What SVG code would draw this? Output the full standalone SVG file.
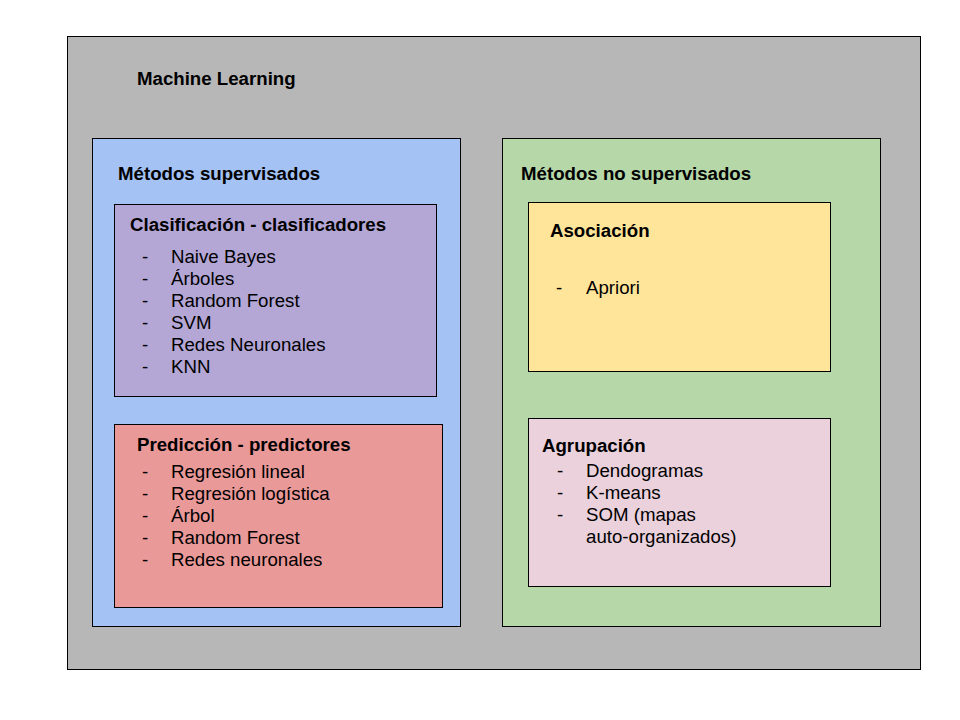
<svg xmlns="http://www.w3.org/2000/svg" width="960" height="720" viewBox="0 0 960 720">
  <style>
    .box { stroke: #000; stroke-width: 1; }
    .title { font-family: "Liberation Sans", Arial, sans-serif; font-size: 18.67px; font-weight: bold; fill: #000; }
    .item { font-family: "Liberation Sans", Arial, sans-serif; font-size: 18.67px; fill: #000; }
  </style>
  <rect x="0" y="0" width="960" height="720" fill="#fff"/>

  <g id="machine-learning">
    <rect class="box" x="67.5" y="36.5" width="853" height="633" fill="#b7b7b7"/>
    <text class="title" x="137" y="85">Machine Learning</text>
  </g>

  <g id="supervisados">
    <rect class="box" x="92.5" y="138.5" width="368" height="488" fill="#a4c2f4"/>
    <text class="title" x="118" y="180">Métodos supervisados</text>
  </g>

  <g id="clasificacion">
    <rect class="box" x="114.5" y="204.5" width="322" height="192" fill="#b4a7d6"/>
    <text class="title" x="130" y="231">Clasificación - clasificadores</text>
    <g class="item">
      <text x="142" y="263">-</text><text x="171" y="263">Naive Bayes</text>
      <text x="142" y="285">-</text><text x="171" y="285">Árboles</text>
      <text x="142" y="307">-</text><text x="171" y="307">Random Forest</text>
      <text x="142" y="329">-</text><text x="171" y="329">SVM</text>
      <text x="142" y="351">-</text><text x="171" y="351">Redes Neuronales</text>
      <text x="142" y="373">-</text><text x="171" y="373">KNN</text>
    </g>
  </g>

  <g id="prediccion">
    <rect class="box" x="114.5" y="424.5" width="328" height="183" fill="#ea9999"/>
    <text class="title" x="137" y="451">Predicción - predictores</text>
    <g class="item">
      <text x="142" y="478">-</text><text x="171" y="478">Regresión lineal</text>
      <text x="142" y="500">-</text><text x="171" y="500">Regresión logística</text>
      <text x="142" y="522">-</text><text x="171" y="522">Árbol</text>
      <text x="142" y="544">-</text><text x="171" y="544">Random Forest</text>
      <text x="142" y="566">-</text><text x="171" y="566">Redes neuronales</text>
    </g>
  </g>

  <g id="no-supervisados">
    <rect class="box" x="502.5" y="138.5" width="378" height="488" fill="#b6d7a8"/>
    <text class="title" x="521" y="180">Métodos no supervisados</text>
  </g>

  <g id="asociacion">
    <rect class="box" x="528.5" y="202.5" width="302" height="169" fill="#ffe599"/>
    <text class="title" x="550" y="237">Asociación</text>
    <g class="item">
      <text x="556" y="294">-</text><text x="586" y="294">Apriori</text>
    </g>
  </g>

  <g id="agrupacion">
    <rect class="box" x="528.5" y="418.5" width="302" height="168" fill="#ead1dc"/>
    <text class="title" x="542" y="452">Agrupación</text>
    <g class="item">
      <text x="557" y="477">-</text><text x="586" y="477">Dendogramas</text>
      <text x="557" y="499">-</text><text x="586" y="499">K-means</text>
      <text x="557" y="521">-</text><text x="586" y="521">SOM (mapas</text>
      <text x="586" y="543">auto-organizados)</text>
    </g>
  </g>

  <g id="connectors"></g>
</svg>
